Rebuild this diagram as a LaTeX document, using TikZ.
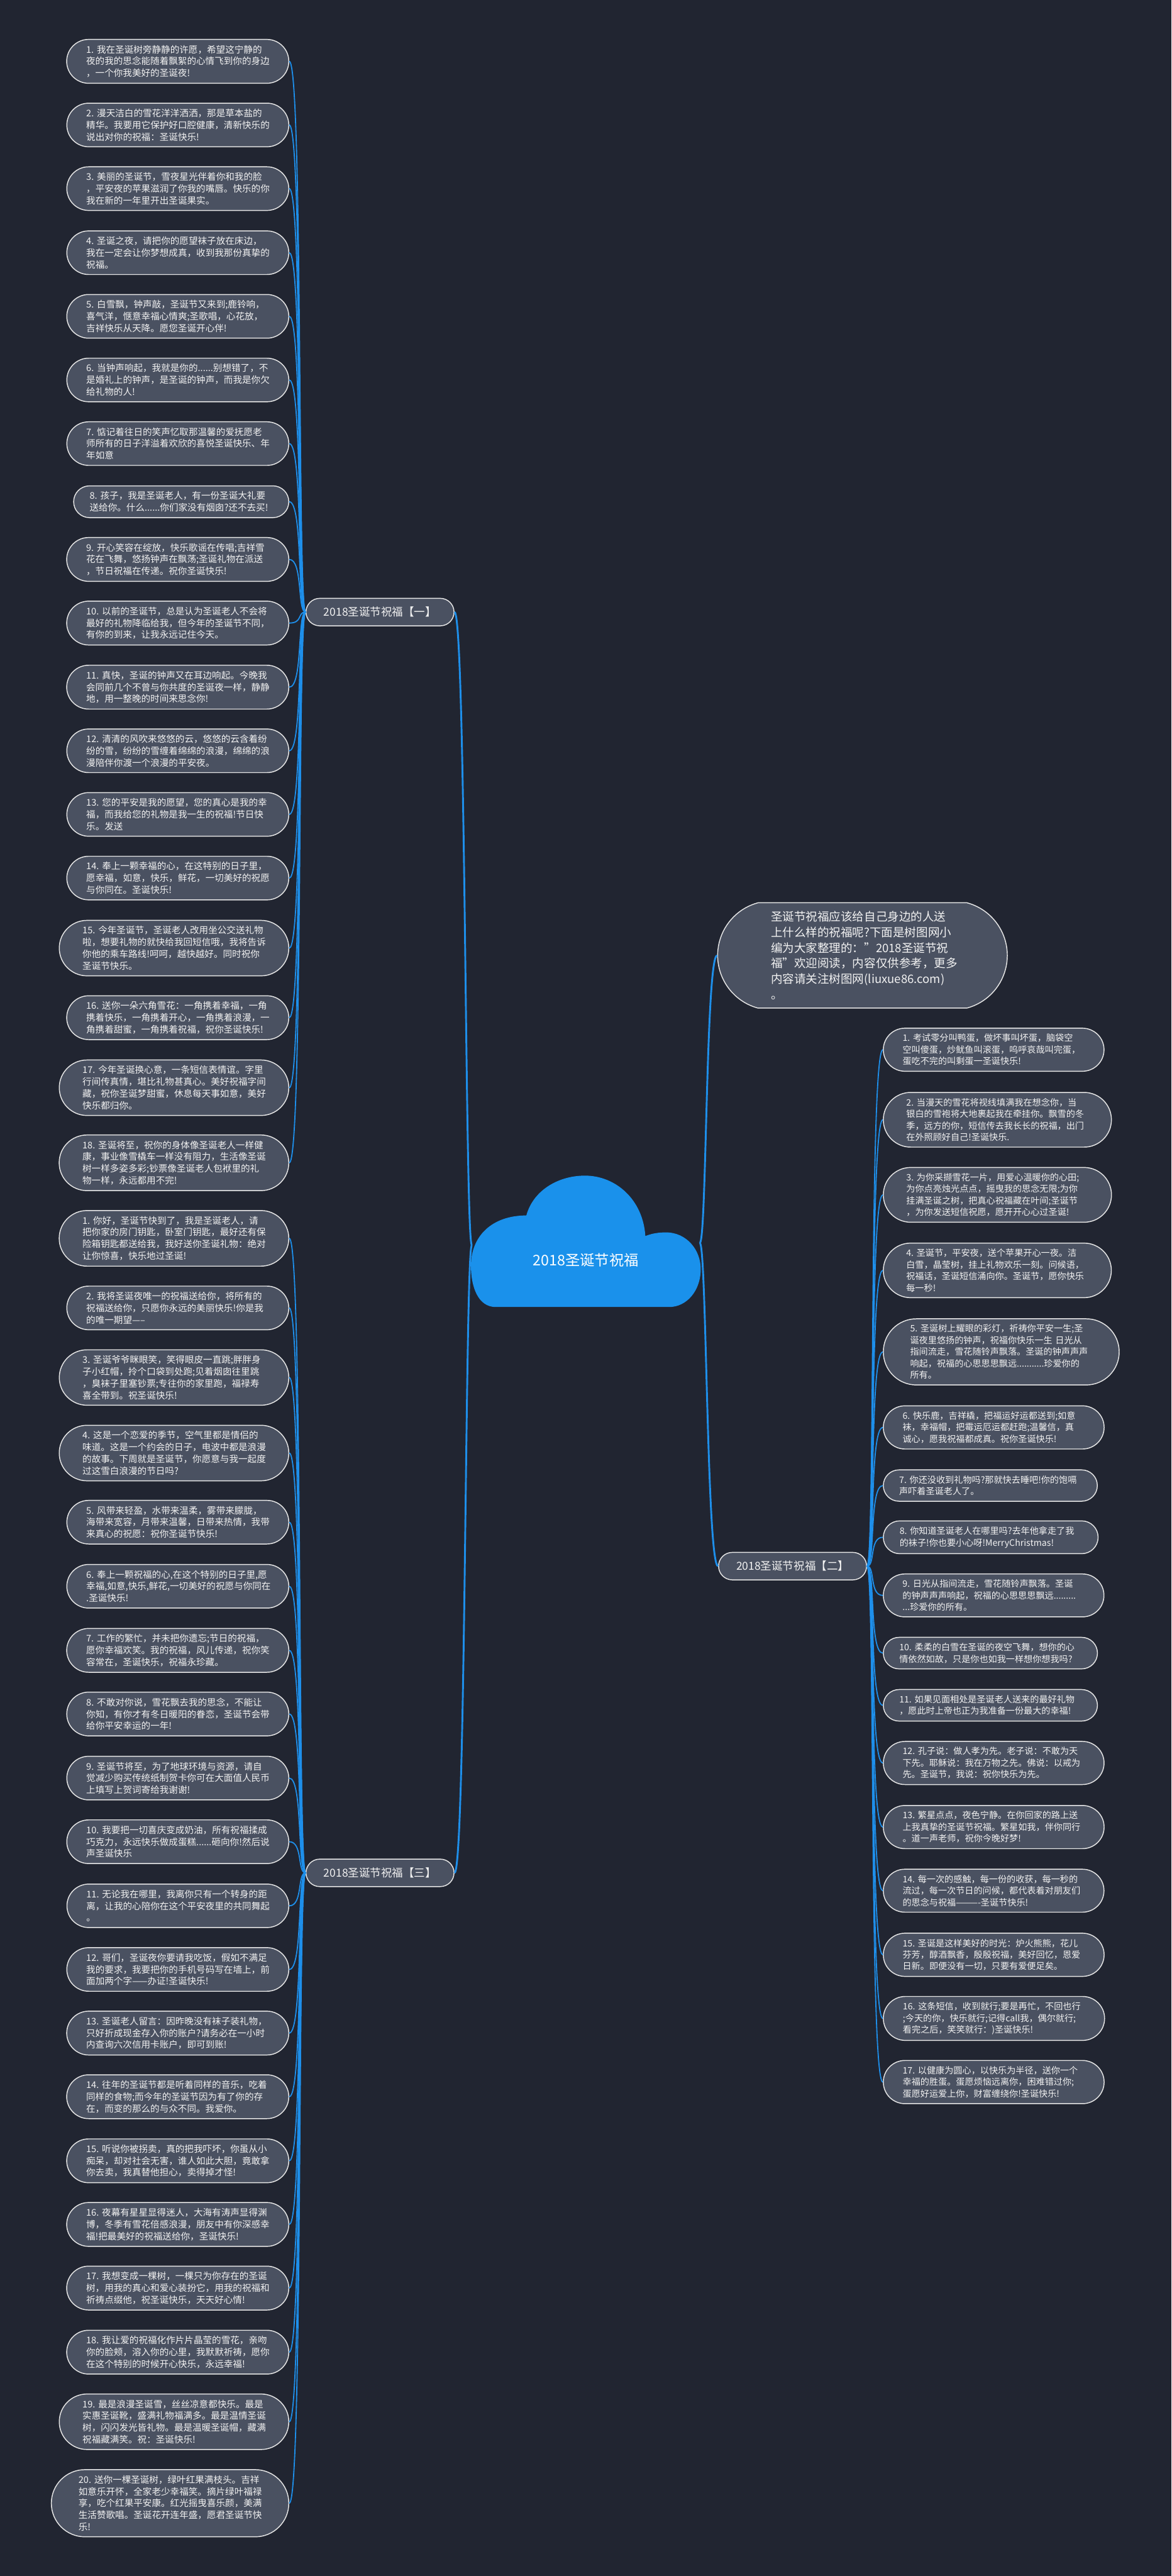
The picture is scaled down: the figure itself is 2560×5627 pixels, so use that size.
\documentclass[tikz,border=0pt]{standalone}
\usepackage{fontspec}
\setmainfont{Noto Sans CJK SC}
\usetikzlibrary{shapes.misc}

\definecolor{bgdark}{HTML}{212531}
\definecolor{boxfill}{HTML}{4A5161}
\definecolor{boxline}{HTML}{E6E6E6}
\definecolor{linkblue}{HTML}{1E8FEA}
\definecolor{cloudblue}{HTML}{1A91EB}
\definecolor{textwhite}{HTML}{F2F2F2}

\tikzset{
  wish/.style={rounded rectangle, draw=boxline, fill=boxfill, line width=0.4mm,
    text=textwhite, align=left, text width=80mm, inner xsep=5.4mm, inner ysep=2.5mm,
    font=\fontsize{11.4pt}{14.7pt}\selectfont},
  wishL/.style={wish, anchor=east},
  wishR/.style={wish, anchor=west, text width=79.6mm,
    font=\fontsize{11.05pt}{14.45pt}\selectfont},
  secbox/.style={rounded rectangle, draw=boxline, fill=boxfill, line width=0.4mm,
    text=textwhite, minimum height=12mm, inner xsep=7.3mm,
    font=\fontsize{13.7pt}{16pt}\selectfont},
  introbox/.style={rounded rectangle, rounded rectangle arc length=150,
    draw=boxline, fill=boxfill, line width=0.4mm, text=textwhite, align=left,
    text width=80mm, inner xsep=13.4mm, inner ysep=3.7mm, anchor=west,
    font=\fontsize{14.5pt}{19.35pt}\selectfont},
  twig/.style={draw=linkblue, line width=0.5mm},
  trunkline/.style={draw=linkblue, line width=0.8mm},
}

\begin{document}
\begin{tikzpicture}[x=0.2mm, y=-0.2mm]

% page
\useasboundingbox (0,0) rectangle (2560,5627);
\fill [bgdark] (0,0) rectangle (2560,5627);

% where the lines leave the cloud
\coordinate (root-l) at (1031,2720);
\coordinate (root-r) at (1529,2715);

% section titles
\node [secbox, anchor=east] (secA) at (993,1337) {2018圣诞节祝福【一】};
\node [secbox, anchor=west] (secB) at (1569,3421) {2018圣诞节祝福【二】};
\node [secbox, anchor=east] (secC) at (993,4091) {2018圣诞节祝福【三】};

% intro text
\node [introbox] (intro) at (1567,2087) {圣诞节祝福应该给自己身边的人送\\上什么样的祝福呢?下面是树图网小\\编为大家整理的："2018圣诞节祝\\福"欢迎阅读，内容仅供参考，更多\\内容请关注树图网(liuxue86.com)\\。};

% ---- section one
\node [wishL] (a1) at (632,134) {1.~我在圣诞树旁静静的许愿，希望这宁静的\\夜的我的思念能随着飘絮的心情飞到你的身边\\，一个你我美好的圣诞夜!};
\node [wishL] (a2) at (632,273) {2.~漫天洁白的雪花洋洋洒洒，那是草本盐的\\精华。我要用它保护好口腔健康，清新快乐的\\说出对你的祝福：圣诞快乐!};
\node [wishL] (a3) at (632,412) {3.~美丽的圣诞节，雪夜星光伴着你和我的脸\\，平安夜的苹果滋润了你我的嘴唇。快乐的你\\我在新的一年里开出圣诞果实。};
\node [wishL] (a4) at (632,552) {4.~圣诞之夜，请把你的愿望袜子放在床边，\\我在一定会让你梦想成真，收到我那份真挚的\\祝福。};
\node [wishL] (a5) at (632,691) {5.~白雪飘，钟声敲，圣诞节又来到;鹿铃响，\\喜气洋，惬意幸福心情爽;圣歌唱，心花放，\\吉祥快乐从天降。愿您圣诞开心伴!};
\node [wishL] (a6) at (632,830) {6.~当钟声响起，我就是你的......别想错了，不\\是婚礼上的钟声，是圣诞的钟声，而我是你欠\\给礼物的人!};
\node [wishL] (a7) at (632,969) {7.~惦记着往日的笑声忆取那温馨的爱抚愿老\\师所有的日子洋溢着欢欣的喜悦圣诞快乐、年\\年如意};
\node [wishL] (a8) at (632,1096) {8.~孩子，我是圣诞老人，有一份圣诞大礼要\\送给你。什么......你们家没有烟囱?还不去买!};
\node [wishL] (a9) at (632,1222) {9.~开心笑容在绽放，快乐歌谣在传唱;吉祥雪\\花在飞舞，悠扬钟声在飘荡;圣诞礼物在派送\\，节日祝福在传递。祝你圣诞快乐!};
\node [wishL] (a10) at (632,1361) {10.~以前的圣诞节，总是认为圣诞老人不会将\\最好的礼物降临给我，但今年的圣诞节不同，\\有你的到来，让我永远记住今天。};
\node [wishL] (a11) at (632,1501) {11.~真快，圣诞的钟声又在耳边响起。今晚我\\会同前几个不曾与你共度的圣诞夜一样，静静\\地，用一整晚的时间来思念你!};
\node [wishL] (a12) at (632,1640) {12.~清清的风吹来悠悠的云，悠悠的云含着纷\\纷的雪，纷纷的雪缠着绵绵的浪漫，绵绵的浪\\漫陪伴你渡一个浪漫的平安夜。};
\node [wishL] (a13) at (632,1779) {13.~您的平安是我的愿望，您的真心是我的幸\\福，而我给您的礼物是我一生的祝福!节日快\\乐。发送};
\node [wishL] (a14) at (632,1918) {14.~奉上一颗幸福的心，在这特别的日子里，\\愿幸福，如意，快乐，鲜花，一切美好的祝愿\\与你同在。圣诞快乐!};
\node [wishL] (a15) at (632,2071) {15.~今年圣诞节，圣诞老人改用坐公交送礼物\\啦，想要礼物的就快给我回短信哦，我将告诉\\你他的乘车路线!呵呵，越快越好。同时祝你\\圣诞节快乐。};
\node [wishL] (a16) at (632,2223) {16.~送你一朵六角雪花：一角携着幸福，一角\\携着快乐，一角携着开心，一角携着浪漫，一\\角携着甜蜜，一角携着祝福，祝你圣诞快乐!};
\node [wishL] (a17) at (632,2376) {17.~今年圣诞换心意，一条短信表情谊。字里\\行间传真情，堪比礼物甚真心。美好祝福字间\\藏，祝你圣诞梦甜蜜，休息每天事如意，美好\\快乐都归你。};
\node [wishL] (a18) at (632,2540) {18.~圣诞将至，祝你的身体像圣诞老人一样健\\康，事业像雪橇车一样没有阻力，生活像圣诞\\树一样多姿多彩;钞票像圣诞老人包袱里的礼\\物一样，永远都用不完!};

% ---- section two
\node [wishR] (b1) at (1929,2293) {1.~考试零分叫鸭蛋，做坏事叫坏蛋，脑袋空\\空叫傻蛋，炒鱿鱼叫滚蛋，呜呼哀哉叫完蛋，\\蛋吃不完的叫剩蛋一圣诞快乐!};
\node [wishR] (b2) at (1929,2446) {2.~当漫天的雪花将视线填满我在想念你，当\\银白的雪袍将大地裹起我在牵挂你。飘雪的冬\\季，远方的你，短信传去我长长的祝福，出门\\在外照顾好自己!圣诞快乐.};
\node [wishR] (b3) at (1929,2610) {3.~为你采撷雪花一片，用爱心温暖你的心田;\\为你点亮烛光点点，摇曳我的思念无限;为你\\挂满圣诞之树，把真心祝福藏在叶间;圣诞节\\，为你发送短信祝愿，愿开开心心过圣诞!};
\node [wishR] (b4) at (1929,2775) {4.~圣诞节，平安夜，送个苹果开心一夜。洁\\白雪，晶莹树，挂上礼物欢乐一刻。问候语，\\祝福话，圣诞短信涌向你。圣诞节，愿你快乐\\每一秒!};
\node [wishR] (b5) at (1929,2953) {5.~圣诞树上耀眼的彩灯，祈祷你平安一生;圣\\诞夜里悠扬的钟声，祝福你快乐一生~日光从\\指间流走，雪花随铃声飘落。圣诞的钟声声声\\响起，祝福的心思思思飘远...........珍爱你的\\所有。};
\node [wishR] (b6) at (1929,3118) {6.~快乐鹿，吉祥橇，把福运好运都送到;如意\\袜，幸福帽，把霉运厄运都赶跑;温馨信，真\\诚心，愿我祝福都成真。祝你圣诞快乐!};
\node [wishR] (b7) at (1929,3245) {7.~你还没收到礼物吗?那就快去睡吧!你的饱嗝\\声吓着圣诞老人了。};
\node [wishR] (b8) at (1929,3358) {8.~你知道圣诞老人在哪里吗?去年他拿走了我\\的袜子!你也要小心呀!MerryChristmas!};
\node [wishR] (b9) at (1929,3485) {9.~日光从指间流走，雪花随铃声飘落。圣诞\\的钟声声声响起，祝福的心思思思飘远.........\\...珍爱你的所有。};
\node [wishR] (b10) at (1929,3611) {10.~柔柔的白雪在圣诞的夜空飞舞，想你的心\\情依然如故，只是你也如我一样想你想我吗?};
\node [wishR] (b11) at (1929,3725) {11.~如果见面相处是圣诞老人送来的最好礼物\\，愿此时上帝也正为我准备一份最大的幸福!};
\node [wishR] (b12) at (1929,3851) {12.~孔子说：做人孝为先。老子说：不敢为天\\下先。耶稣说：我在万物之先。佛说：以戒为\\先。圣诞节，我说：祝你快乐为先。};
\node [wishR] (b13) at (1929,3991) {13.~繁星点点，夜色宁静。在你回家的路上送\\上我真挚的圣诞节祝福。繁星如我，伴你同行\\。道一声老师，祝你今晚好梦!};
\node [wishR] (b14) at (1929,4130) {14.~每一次的感触，每一份的收获，每一秒的\\流过，每一次节日的问候，都代表着对朋友们\\的思念与祝福———-圣诞节快乐!};
\node [wishR] (b15) at (1929,4270) {15.~圣诞是这样美好的时光：炉火熊熊，花儿\\芬芳，醇酒飘香，殷殷祝福，美好回忆，恩爱\\日新。即便没有一切，只要有爱便足矣。};
\node [wishR] (b16) at (1929,4409) {16.~这条短信，收到就行;要是再忙，不回也行\\;今天的你，快乐就行;记得call我，偶尔就行;\\看完之后，笑笑就行：)圣诞快乐!};
\node [wishR] (b17) at (1929,4548) {17.~以健康为圆心，以快乐为半径，送你一个\\幸福的胜蛋。蛋愿烦恼远离你，困难错过你;\\蛋愿好运爱上你，财富缠绕你!圣诞快乐!};

% ---- section three
\node [wishL] (c1) at (632,2705) {1.~你好，圣诞节快到了，我是圣诞老人，请\\把你家的房门钥匙，卧室门钥匙，最好还有保\\险箱钥匙都送给我，我好送你圣诞礼物：绝对\\让你惊喜，快乐地过圣诞!};
\node [wishL] (c2) at (632,2857) {2.~我将圣诞夜唯一的祝福送给你，将所有的\\祝福送给你，只愿你永远的美丽快乐!你是我\\的唯一期望-----};
\node [wishL] (c3) at (632,3009) {3.~圣诞爷爷眯眼笑，笑得眼皮一直跳;胖胖身\\子小红帽，拎个口袋到处跑;见着烟囱往里跳\\，臭袜子里塞钞票;专往你的家里跑，福禄寿\\喜全带到。祝圣诞快乐!};
\node [wishL] (c4) at (632,3174) {4.~这是一个恋爱的季节，空气里都是情侣的\\味道。这是一个约会的日子，电波中都是浪漫\\的故事。下周就是圣诞节，你愿意与我一起度\\过这雪白浪漫的节日吗?};
\node [wishL] (c5) at (632,3325) {5.~风带来轻盈，水带来温柔，雾带来朦胧，\\海带来宽容，月带来温馨，日带来热情，我带\\来真心的祝愿：祝你圣诞节快乐!};
\node [wishL] (c6) at (632,3465) {6.~奉上一颗祝福的心,在这个特别的日子里,愿\\幸福,如意,快乐,鲜花,一切美好的祝愿与你同在\\.圣诞快乐!};
\node [wishL] (c7) at (632,3605) {7.~工作的繁忙，并未把你遗忘;节日的祝福，\\愿你幸福欢笑。我的祝福，风儿传递，祝你笑\\容常在，圣诞快乐，祝福永珍藏。};
\node [wishL] (c8) at (632,3744) {8.~不敢对你说，雪花飘去我的思念，不能让\\你知，有你才有冬日暖阳的眷恋，圣诞节会带\\给你平安幸运的一年!};
\node [wishL] (c9) at (632,3884) {9.~圣诞节将至，为了地球环境与资源，请自\\觉减少购买传统纸制贺卡你可在大面值人民币\\上填写上贺词寄给我谢谢!};
\node [wishL] (c10) at (632,4023) {10.~我要把一切喜庆变成奶油，所有祝福揉成\\巧克力，永远快乐做成蛋糕......砸向你!然后说\\声圣诞快乐};
\node [wishL] (c11) at (632,4163) {11.~无论我在哪里，我离你只有一个转身的距\\离，让我的心陪你在这个平安夜里的共同舞起\\。};
\node [wishL] (c12) at (632,4302) {12.~哥们，圣诞夜你要请我吃饭，假如不满足\\我的要求，我要把你的手机号码写在墙上，前\\面加两个字——办证!圣诞快乐!};
\node [wishL] (c13) at (632,4441) {13.~圣诞老人留言：因昨晚没有袜子装礼物，\\只好折成现金存入你的账户?请务必在一小时\\内查询六次信用卡账户，即可到账!};
\node [wishL] (c14) at (632,4580) {14.~往年的圣诞节都是听着同样的音乐，吃着\\同样的食物;而今年的圣诞节因为有了你的存\\在，而变的那么的与众不同。我爱你。};
\node [wishL] (c15) at (632,4720) {15.~听说你被拐卖，真的把我吓坏，你虽从小\\痴呆，却对社会无害，谁人如此大胆，竟敢拿\\你去卖，我真替他担心，卖得掉才怪!};
\node [wishL] (c16) at (632,4859) {16.~夜幕有星星显得迷人，大海有涛声显得渊\\博，冬季有雪花倍感浪漫，朋友中有你深感幸\\福!把最美好的祝福送给你，圣诞快乐!};
\node [wishL] (c17) at (632,4998) {17.~我想变成一棵树，一棵只为你存在的圣诞\\树，用我的真心和爱心装扮它，用我的祝福和\\祈祷点缀他，祝圣诞快乐，天天好心情!};
\node [wishL] (c18) at (632,5138) {18.~我让爱的祝福化作片片晶莹的雪花，亲吻\\你的脸颊，溶入你的心里，我默默祈祷，愿你\\在这个特别的时候开心快乐，永远幸福!};
\node [wishL] (c19) at (632,5290) {19.~最是浪漫圣诞雪，丝丝凉意都快乐。最是\\实惠圣诞靴，盛满礼物福满多。最是温情圣诞\\树，闪闪发光皆礼物。最是温暖圣诞帽，藏满\\祝福藏满笑。祝：圣诞快乐!};
\node [wishL] (c20) at (632,5468) {20.~送你一棵圣诞树，绿叶红果满枝头。吉祥\\如意乐开怀，全家老少幸福笑。摘片绿叶福禄\\享，吃个红果平安康。红光摇曳喜乐颜，美满\\生活赞歌唱。圣诞花开连年盛，愿君圣诞节快\\乐!};

% lines from the cloud
\draw [trunkline] (root-l) .. controls +(-15,0) and +(25,0) .. (secA.east);
\draw [trunkline] (root-l) .. controls +(-15,0) and +(25,0) .. (secC.east);
\draw [trunkline] (root-r) .. controls +(15,0) and +(-25,0) .. (intro.west);
\draw [trunkline] (root-r) .. controls +(15,0) and +(-25,0) .. (secB.west);

% section one lines
\draw [twig] (secA.west) .. controls +(-18,0) and +(30,0) .. (a1.east);
\draw [twig] (secA.west) .. controls +(-18,0) and +(30,0) .. (a2.east);
\draw [twig] (secA.west) .. controls +(-18,0) and +(30,0) .. (a3.east);
\draw [twig] (secA.west) .. controls +(-18,0) and +(30,0) .. (a4.east);
\draw [twig] (secA.west) .. controls +(-18,0) and +(30,0) .. (a5.east);
\draw [twig] (secA.west) .. controls +(-18,0) and +(30,0) .. (a6.east);
\draw [twig] (secA.west) .. controls +(-18,0) and +(30,0) .. (a7.east);
\draw [twig] (secA.west) .. controls +(-18,0) and +(30,0) .. (a8.east);
\draw [twig] (secA.west) .. controls +(-18,0) and +(30,0) .. (a9.east);
\draw [twig] (secA.west) .. controls +(-18,0) and +(30,0) .. (a10.east);
\draw [twig] (secA.west) .. controls +(-18,0) and +(30,0) .. (a11.east);
\draw [twig] (secA.west) .. controls +(-18,0) and +(30,0) .. (a12.east);
\draw [twig] (secA.west) .. controls +(-18,0) and +(30,0) .. (a13.east);
\draw [twig] (secA.west) .. controls +(-18,0) and +(30,0) .. (a14.east);
\draw [twig] (secA.west) .. controls +(-18,0) and +(30,0) .. (a15.east);
\draw [twig] (secA.west) .. controls +(-18,0) and +(30,0) .. (a16.east);
\draw [twig] (secA.west) .. controls +(-18,0) and +(30,0) .. (a17.east);
\draw [twig] (secA.west) .. controls +(-18,0) and +(30,0) .. (a18.east);

% section two lines
\draw [twig] (secB.east) .. controls +(18,0) and +(-30,0) .. (b1.west);
\draw [twig] (secB.east) .. controls +(18,0) and +(-30,0) .. (b2.west);
\draw [twig] (secB.east) .. controls +(18,0) and +(-30,0) .. (b3.west);
\draw [twig] (secB.east) .. controls +(18,0) and +(-30,0) .. (b4.west);
\draw [twig] (secB.east) .. controls +(18,0) and +(-30,0) .. (b5.west);
\draw [twig] (secB.east) .. controls +(18,0) and +(-30,0) .. (b6.west);
\draw [twig] (secB.east) .. controls +(18,0) and +(-30,0) .. (b7.west);
\draw [twig] (secB.east) .. controls +(18,0) and +(-30,0) .. (b8.west);
\draw [twig] (secB.east) .. controls +(18,0) and +(-30,0) .. (b9.west);
\draw [twig] (secB.east) .. controls +(18,0) and +(-30,0) .. (b10.west);
\draw [twig] (secB.east) .. controls +(18,0) and +(-30,0) .. (b11.west);
\draw [twig] (secB.east) .. controls +(18,0) and +(-30,0) .. (b12.west);
\draw [twig] (secB.east) .. controls +(18,0) and +(-30,0) .. (b13.west);
\draw [twig] (secB.east) .. controls +(18,0) and +(-30,0) .. (b14.west);
\draw [twig] (secB.east) .. controls +(18,0) and +(-30,0) .. (b15.west);
\draw [twig] (secB.east) .. controls +(18,0) and +(-30,0) .. (b16.west);
\draw [twig] (secB.east) .. controls +(18,0) and +(-30,0) .. (b17.west);

% section three lines
\draw [twig] (secC.west) .. controls +(-18,0) and +(30,0) .. (c1.east);
\draw [twig] (secC.west) .. controls +(-18,0) and +(30,0) .. (c2.east);
\draw [twig] (secC.west) .. controls +(-18,0) and +(30,0) .. (c3.east);
\draw [twig] (secC.west) .. controls +(-18,0) and +(30,0) .. (c4.east);
\draw [twig] (secC.west) .. controls +(-18,0) and +(30,0) .. (c5.east);
\draw [twig] (secC.west) .. controls +(-18,0) and +(30,0) .. (c6.east);
\draw [twig] (secC.west) .. controls +(-18,0) and +(30,0) .. (c7.east);
\draw [twig] (secC.west) .. controls +(-18,0) and +(30,0) .. (c8.east);
\draw [twig] (secC.west) .. controls +(-18,0) and +(30,0) .. (c9.east);
\draw [twig] (secC.west) .. controls +(-18,0) and +(30,0) .. (c10.east);
\draw [twig] (secC.west) .. controls +(-18,0) and +(30,0) .. (c11.east);
\draw [twig] (secC.west) .. controls +(-18,0) and +(30,0) .. (c12.east);
\draw [twig] (secC.west) .. controls +(-18,0) and +(30,0) .. (c13.east);
\draw [twig] (secC.west) .. controls +(-18,0) and +(30,0) .. (c14.east);
\draw [twig] (secC.west) .. controls +(-18,0) and +(30,0) .. (c15.east);
\draw [twig] (secC.west) .. controls +(-18,0) and +(30,0) .. (c16.east);
\draw [twig] (secC.west) .. controls +(-18,0) and +(30,0) .. (c17.east);
\draw [twig] (secC.west) .. controls +(-18,0) and +(30,0) .. (c18.east);
\draw [twig] (secC.west) .. controls +(-18,0) and +(30,0) .. (c19.east);
\draw [twig] (secC.west) .. controls +(-18,0) and +(30,0) .. (c20.east);

% the cloud
\fill [cloudblue] (1083,2855) .. controls (1045,2855) and (1029,2812) .. (1029,2765)
  .. controls (1029,2700) and (1075,2655) .. (1150,2655)
  .. controls (1165,2600) and (1220,2568) .. (1278,2568)
  .. controls (1345,2568) and (1405,2620) .. (1410,2700)
  .. controls (1425,2694) and (1440,2692) .. (1455,2692)
  .. controls (1500,2692) and (1531,2730) .. (1531,2772)
  .. controls (1531,2820) and (1500,2855) .. (1462,2855) -- cycle;
\node [text=white, font=\fontsize{18.2pt}{20pt}\selectfont] (root) at (1280,2752) {2018圣诞节祝福};

\end{tikzpicture}
\end{document}
